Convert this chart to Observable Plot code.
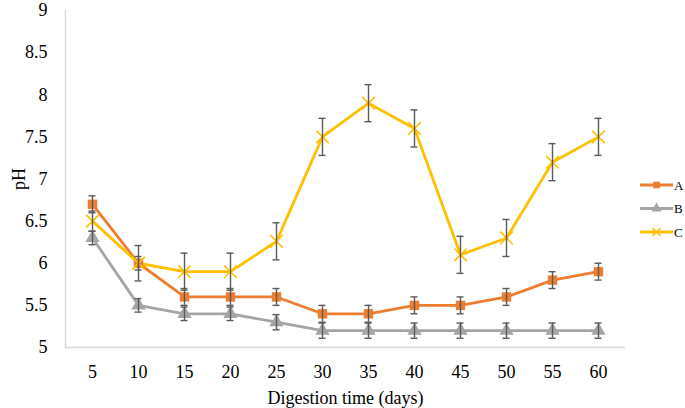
<!DOCTYPE html>
<html>
<head>
<meta charset="utf-8">
<script src="https://cdn.jsdelivr.net/npm/d3@7"></script>
<script src="https://cdn.jsdelivr.net/npm/@observablehq/plot@0.6"></script>
<style>
  html, body { margin: 0; padding: 0; background: #fff; }
  #wrap { position: relative; width: 685px; height: 408px; font-family: "Liberation Serif", "Times New Roman", serif; }
  #legend { position: absolute; left: 638px; top: 176px; }
</style>
</head>
<body>
<div id="wrap"><div id="chart"></div><svg id="legend" width="47" height="66"></svg></div>
<script>
const days = ["5", "10", "15", "20", "25", "30", "35", "40", "45", "50", "55", "60"];
const seriesNames = ["A", "B", "C"];
const colors = ["#ED7D31", "#A5A5A5", "#FFC000"];
const symbols = ["square", "triangle", "times"];
const valuesA = [6.7, 6.0, 5.6, 5.6, 5.6, 5.4, 5.4, 5.5, 5.5, 5.6, 5.8, 5.9];
const errorsA = [0.1, 0.08, 0.1, 0.1, 0.1, 0.1, 0.1, 0.1, 0.1, 0.1, 0.1, 0.1];
const valuesB = [6.3, 5.5, 5.4, 5.4, 5.3, 5.2, 5.2, 5.2, 5.2, 5.2, 5.2, 5.2];
const errorsB = [0.08, 0.08, 0.08, 0.08, 0.09, 0.09, 0.09, 0.09, 0.09, 0.09, 0.09, 0.09];
const valuesC = [6.5, 6.0, 5.9, 5.9, 6.26, 7.5, 7.9, 7.6, 6.1, 6.3, 7.2, 7.5];
const errorsC = [0.12, 0.21, 0.22, 0.22, 0.22, 0.22, 0.22, 0.22, 0.22, 0.22, 0.22, 0.22];
const yTicks = [5, 5.5, 6, 6.5, 7, 7.5, 8, 8.5, 9];

const allValues = [valuesA, valuesB, valuesC];
const allErrors = [errorsA, errorsB, errorsC];
const rows = [];
seriesNames.forEach((s, i) => {
  days.forEach((d, j) => rows.push({series: s, day: d, value: allValues[i][j], err: allErrors[i][j]}));
});

const errStroke = "#5a5a5a";
const chart = Plot.plot({
  width: 685,
  height: 408,
  marginLeft: 65,
  marginRight: 60,
  marginTop: 10,
  marginBottom: 61,
  style: {fontFamily: "'Liberation Serif', 'Times New Roman', serif", fontSize: "18px", background: "#fff", color: "#000"},
  x: {type: "band", domain: days, padding: 0},
  y: {domain: [5, 9], ticks: yTicks},
  color: {domain: seriesNames, range: colors},
  symbol: {domain: seriesNames, range: symbols},
  marks: [
    Plot.ruleY([5], {stroke: "#d9d9d9", strokeWidth: 1.5}),
    Plot.frame({anchor: "left", stroke: "#d9d9d9", strokeWidth: 1.5}),
    Plot.axisY({ticks: yTicks, tickSize: 0, tickPadding: 18, tickFormat: d => String(d), label: "pH", labelAnchor: "center", labelArrow: false, labelOffset: 53, fontSize: 18}),
    Plot.axisX({tickSize: 0, tickPadding: 18, label: "Digestion time (days)", labelAnchor: "center", labelArrow: false, labelOffset: 56, fontSize: 18}),
    Plot.line(rows, {x: "day", y: "value", z: "series", stroke: "series", strokeWidth: 2.8}),
    Plot.dot(rows.filter(d => d.series !== "C"), {x: "day", y: "value", symbol: "series", fill: "series", r: 5.3}),
    Plot.dot(rows.filter(d => d.series === "C"), {x: "day", y: "value", symbol: "series", stroke: "series", strokeWidth: 1.6, r: 5.8}),
    Plot.ruleX(rows, {x: "day", y1: d => d.value - d.err, y2: d => d.value + d.err, stroke: errStroke, strokeWidth: 1.4}),
    Plot.tickY(rows, {x: "day", y: d => d.value + d.err, stroke: errStroke, strokeWidth: 1.4, insetLeft: 19.5, insetRight: 19.5}),
    Plot.tickY(rows, {x: "day", y: d => d.value - d.err, stroke: errStroke, strokeWidth: 1.4, insetLeft: 19.5, insetRight: 19.5})
  ]
});
document.getElementById("chart").appendChild(chart);

// legend
const leg = d3.select("#legend");
const symMap = {square: d3.symbolSquare, triangle: d3.symbolTriangle, times: d3.symbolTimes};
seriesNames.forEach((s, i) => {
  const g = leg.append("g").attr("transform", `translate(0, ${9 + i * 23.5})`);
  g.append("line").attr("x1", 2).attr("x2", 35).attr("stroke", colors[i]).attr("stroke-width", 2.8);
  const path = d3.symbol(symMap[symbols[i]], 45)();
  if (symbols[i] === "times") {
    g.append("path").attr("d", path).attr("transform", "translate(18.5,0)").attr("fill", "none").attr("stroke", colors[i]).attr("stroke-width", 1.5);
  } else {
    g.append("path").attr("d", path).attr("transform", "translate(18.5,0)").attr("fill", colors[i]);
  }
  g.append("text").attr("x", 36).attr("y", 0).attr("dy", "0.35em").attr("font-size", 13).attr("font-family", "'Liberation Serif', serif").text(s);
});
</script>
</body>
</html>
